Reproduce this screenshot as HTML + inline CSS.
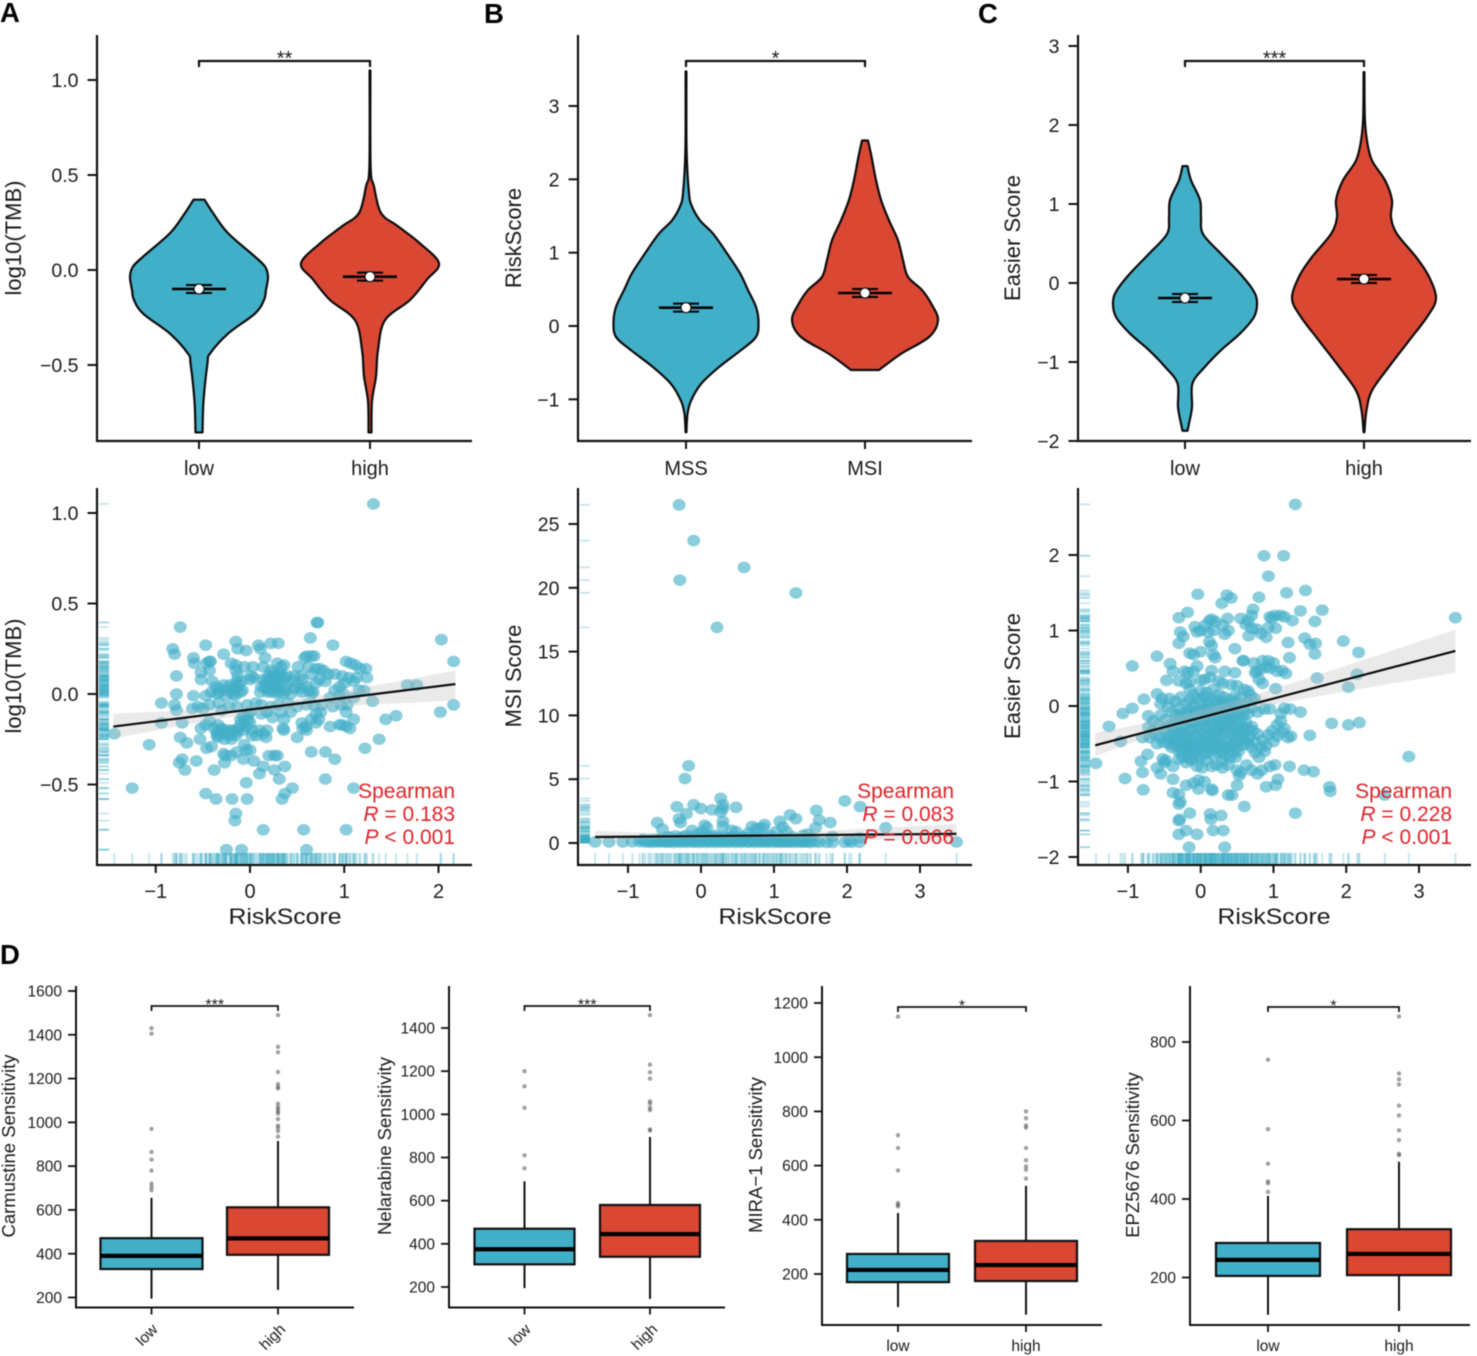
<!DOCTYPE html>
<html lang="en">
<head>
<meta charset="utf-8">
<title>Risk score correlation panels</title>
<style>
html,body{margin:0;padding:0;background:#fff;}
svg{display:block;font-family:"Liberation Sans",Arial,sans-serif;filter:blur(0.4px);}
</style>
</head>
<body>
<svg id="figure" xmlns="http://www.w3.org/2000/svg" width="1477" height="1356" viewBox="0 0 1477 1356"></svg>
<script>
// ---------- violin data ----------
var tmbLowVal=[.37,.3,.194,.07,.018,-.035,-.105,-.158,-.229,-.335,-.44,-.49,-.69,-.855];
var tmbLowDen=[5.5,14,29,56,66,69,67,65,56,29,11,8.5,4.5,3.5];
var tmbHighVal=[1.05,.546,.44,.3,.23,.14,.035,-.05,-.158,-.264,-.42,-.56,-.69,-.855];
var tmbHighDen=[.4,.6,4,11,28,50,69,57,40,15,8,6,2,1.5];
var mssVal=[3.47,2.4,1.81,1.63,1.44,1.26,.99,.72,.49,.26,.05,-.15,-.33,-.56,-.79,-1.02,-1.2,-1.45];
var mssDen=[.4,.6,3,6,14,27,41,54,62,70,72.5,70,55,33,15,5,1.5,.4];
var msiVal=[2.53,2.31,1.99,1.72,1.44,1.17,.9,.67,.49,.31,.08,-.15,-.38,-.6];
var msiDen=[3,6.5,11,16,24,33,38,43,57,66,73,64,36,14];
var easierLowVal=[1.48,1.3,1.05,.835,.62,.37,.12,-.09,-.24,-.43,-.64,-.85,-1.06,-1.27,-1.57,-1.78,-1.87];
var easierLowDen=[2.5,6,15,16,18,36,55,68,72,69,55,36,20,7.5,7,4,2.5];
var easierHighVal=[2.67,2.1,1.8,1.55,1.3,1.05,.835,.62,.33,.08,-.2,-.43,-.73,-1.06,-1.36,-1.61,-1.89];
var easierHighDen=[.4,.8,3,8,21,28,27,33,52,65,72,63,45,25,8,2.5,.4];
var violinMedians=[-.1,-.035,.25,.45,-.19,.05];

// ---------- scatter data ----------
var tmbPoints=[[1.31,1.05],[-.74,.37],[.71,.395],[.72,.395],[.64,.31],[2.03,.3],[.88,.27],[-.47,.27],[-.15,.29],[-.13,.25],[-.04,.24],[.09,.27],[.11,.25],[.22,.28],[.3,.28],[-.82,.25],[-.8,.22],[-.28,.22],[.16,.2],[-.6,.2],[.58,.2],[.6,.21],[.65,.21],[.68,.21],[2.16,.18],[-.59,.17],[-.46,.17],[-.43,.18],[-.42,.18],[-.2,.17],[-.15,.16],[-.06,.15],[.03,.15],[.14,.15],[.29,.17],[.33,.15],[.36,.16],[.51,.15],[.62,.15],[.7,.14],[.74,.14],[.78,.13],[1.02,.18],[1.07,.17],[1.12,.16],[1.17,.14],[1.23,.14],[-.52,.12],[-.43,.13],[-.15,.13],[-.13,.1],[.01,.1],[.2,.1],[.25,.12],[.31,.12],[.34,.1],[.4,.1],[.47,.1],[.54,.1],[.66,.11],[.83,.11],[.9,.11],[.98,.1],[1.13,.09],[1.24,.09],[-.78,.1],[-.52,.08],[-.4,.07],[-.14,.07],[-.09,.07],[0,.08],[.04,.09],[.14,.08],[.18,.08],[.24,.09],[.29,.08],[.33,.07],[.44,.07],[.56,.08],[.7,.06],[.74,.08],[1,.06],[1.1,.07],[1.67,.05],[1.77,.05],[-.36,.04],[-.32,.03],[-.27,.02],[-.2,.02],[-.14,.03],[-.08,.02],[.12,.04],[.17,.03],[.21,.02],[.26,.03],[.3,.04],[.38,.02],[.47,.03],[.54,.03],[.63,.02],[.67,.01],[.9,.02],[.99,0],[1.16,.02],[1.21,.02],[-.78,0],[-.6,-.01],[-.47,-.01],[-.41,.01],[-.35,0],[-.25,-.01],[-.18,0],[-.1,.01],[.11,.01],[.19,.01],[.24,.01],[.35,0],[.43,0],[.55,.01],[.65,0],[.85,-.02],[.95,-.01],[1.1,-.02],[-.94,-.05],[-.8,-.06],[-.61,-.08],[-.55,-.07],[-.5,-.08],[-.43,-.06],[-.33,-.05],[-.22,-.07],[-.14,-.07],[-.03,-.06],[.06,-.05],[.12,-.06],[.22,-.07],[.3,-.06],[.4,-.05],[.5,-.07],[.6,-.06],[.68,-.06],[.76,-.06],[.88,-.07],[.97,-.06],[1.03,-.06],[1.3,-.04],[2.16,-.06],[-.78,-.09],[-.3,-.09],[0,-.1],[.12,-.11],[.18,-.1],[.33,-.1],[.43,-.1],[.7,-.11],[.75,-.1],[1.02,-.1],[2.02,-.1],[1.55,-.12],[1.44,-.14],[-.94,-.16],[-.72,-.16],[-.47,-.17],[-.43,-.15],[-.38,-.19],[-.34,-.17],[-.1,-.14],[-.06,-.15],[-.02,-.14],[0,-.16],[.24,-.13],[.36,-.14],[.55,-.16],[.59,-.18],[.65,-.14],[.7,-.16],[.73,-.14],[.95,-.17],[.98,-.17],[1.02,-.18],[1.1,-.14],[1.06,-.19],[.85,-.18],[-.52,-.19],[-.35,-.21],[-.3,-.2],[-.25,-.2],[-.2,-.2],[-.17,-.2],[-.12,-.19],[-.07,-.2],[.02,-.2],[.1,-.2],[.18,-.2],[.35,-.19],[.36,-.2],[.56,-.19],[.6,-.2],[.02,-.23],[.07,-.23],[.14,-.22],[.17,-.24],[.5,-.24],[-.74,-.24],[-.53,-.25],[-.67,-.27],[-.35,-.23],[-.27,-.25],[-.2,-.25],[-.15,-.23],[-1.44,-.22],[-1.07,-.28],[1.37,-.25],[1.22,-.3],[-.46,-.3],[-.41,-.29],[-.28,-.33],[-.26,-.34],[-.2,-.34],[-.14,-.32],[-.06,-.28],[-.04,-.31],[0,-.31],[.2,-.34],[.26,-.34],[.29,-.34],[.65,-.32],[.8,-.32],[.9,-.36],[-.75,-.38],[-.72,-.36],[-.57,-.37],[-.69,-.42],[-.38,-.42],[-.27,-.38],[-.07,-.36],[.04,-.37],[.14,-.4],[.37,-.4],[.1,-.44],[.26,-.42],[.31,-.47],[.8,-.47],[-1.25,-.52],[-.47,-.55],[-.36,-.58],[-.19,-.58],[-.03,-.58],[-.04,-.49],[.45,-.52],[.37,-.55],[.34,-.58],[1.1,-.52],[-.15,-.66],[-.16,-.7],[.14,-.75],[.57,-.75],[1.02,-.75],[-.25,-.86],[-.09,-.86],[.6,-.86],
[.16,.05],[.2,.06],[.23,.05],[.27,.06],[.31,.02],[.24,.04],[.2,.03],[.28,.1],[.36,.09],[.22,.13],[-.33,.01],[-.28,.05],[-.21,.05],[-.17,.04],[-.12,.05],[-.16,-.01],[-.3,-.19],[-.33,-.22],[-.25,-.22],[-.14,-.21],[-.1,-.17],[-.04,-.18],[-.02,-.11],[-.07,-.12],[-.34,-.24],[-.22,-.23],[.3,.0],[.38,.05],[.5,.05],[.6,.04],[.8,.07],[.95,.04],[1.05,.09]];
var msiPoints=[[-.3,26.5],[-.1,23.7],[-.29,20.6],[.59,21.6],[1.3,19.6],[.22,16.9],[-.17,6.05],[-.22,5.05],[.27,3.5],[.3,3],[-.33,2.85],[-.1,3],[0,2.7],[.15,2.6],[.3,2.7],[.27,2.45],[.48,2.8],[-.2,2.3],[-.3,1.9],[-.28,1.6],[-.6,1.6],[-.53,1.1],[.3,1.7],[.3,1.3],[.05,1.4],[.08,1.2],[-.12,1],[.7,1.3],[.8,1.15],[.85,1.2],[.87,1.45],[.75,1.1],[1.08,1.7],[1.22,2.2],[1.3,1.9],[1.12,1.25],[1.58,2.55],[1.62,1.8],[1.57,1.2],[1.77,1.6],[1.97,3.3],[2.18,2.85],[2.53,1.2],[1.8,.5],[2.17,.4],[-.45,.5],[-.2,.6],[-.35,.55],[-.05,.7],[.02,.9],[.2,.6],[.42,1],[.48,.9],[.55,.5],[.65,.8],[.95,.6],[1.03,.9],[1.17,.9],[1.25,.5],[1.4,.6],[1.46,.7],[1.5,.4],[-1.45,.08],[-1.26,.08],[-1.07,.08],[-.94,.1],[-.84,.1],[-.79,.3],[-.76,.08],[-.72,.1],[-.68,.06],[-.64,.12],[-.6,.08],[-.56,.15],[-.53,.08],[-.5,.2],[-.47,.06],[-.44,.1],[-.41,.22],[-.38,.05],[-.35,.12],[-.32,.3],[-.29,.06],[-.26,.1],[-.23,.2],[-.2,.05],[-.17,.14],[-.14,.3],[-.11,.06],[-.08,.1],[-.05,.22],[-.02,.05],[.01,.12],[.04,.32],[.07,.05],[.1,.15],[.13,.08],[.16,.25],[.19,.05],[.22,.12],[.25,.3],[.28,.06],[.31,.12],[.34,.2],[.37,.05],[.4,.14],[.43,.28],[.46,.06],[.49,.12],[.52,.2],[.55,.05],[.58,.14],[.61,.3],[.64,.06],[.67,.1],[.7,.22],[.73,.05],[.76,.12],[.79,.28],[.82,.06],[.85,.1],[.88,.18],[.91,.05],[.94,.12],[.97,.25],[1,.06],[1.03,.1],[1.06,.2],[1.09,.05],[1.12,.1],[1.15,.22],[1.18,.06],[1.21,.08],[1.27,.06],[1.33,.08],[1.38,.06],[1.42,.1],[1.46,.08],[1.5,.05],[1.56,.1],[1.62,.06],[1.72,.05],[1.8,.05],[1.97,.05],[2.03,.2],[2.06,.06],[2.17,.06],[3.5,.08],[-.8,.2],[-.55,.35],[-.1,.45],[.35,.45],[.72,.45],[1.1,.4],
[-.7,.25],[-.62,.3],[-.48,.35],[-.42,.42],[-.3,.4],[-.25,.5],[-.16,.38],[-.03,.4],[.03,.5],[.09,.42],[.12,.55],[.18,.38],[.24,.45],[.3,.5],[.38,.38],[.44,.5],[.5,.4],[.56,.35],[.62,.45],[.68,.38],[.74,.33],[.8,.4],[.86,.35],[.92,.42],[.98,.38],[1.04,.33],[1.1,.28],[1.16,.35],[1.22,.3],[-.58,.18],[-.52,.25],[-.36,.28],[-.27,.25],[-.18,.28],[-.06,.18],[.06,.25],[.2,.22],[.33,.28],[.47,.25],[.6,.2],[.75,.25],[.9,.22],[1.0,.2],[1.08,.25],[1.3,.18],[1.36,.25],[1.44,.22]];
var easierPoints=[[1.3,2.67],[.87,1.99],[1.14,1.99],[.93,1.72],[1.18,1.5],[1.44,1.53],[-.04,1.48],[.36,1.47],[.42,1.43],[.8,1.44],[.29,1.36],[.72,1.28],[1.37,1.26],[1.67,1.27],[-.18,1.24],[-.3,1.17],[.37,1.16],[.55,1.16],[.7,1.2],[.65,1.13],[.15,1.15],[.12,1.13],[.2,1.12],[.95,1.18],[1.02,1.2],[1.1,1.2],[1.15,1.18],[.98,1.16],[1.26,1.13],[1.57,1.12],[3.5,1.17],[.62,1.08],[.7,1.03],[.77,1.02],[.06,1.07],[-.08,1.05],[.3,1.07],[.38,1],[.33,.95],[0,1],[-.05,.98],[.1,.98],[.18,1],[-.28,.98],[-.24,.92],[.83,.96],[.93,1.04],[1.03,1.03],[.66,.93],[.9,.91],[1.43,.9],[1.5,.82],[1.58,.83],[-.3,.83],[1.2,.84],[1.96,.86],[.12,.85],[.15,.8],[.47,.76],[2.17,.71],[1.22,.64],[1.57,.69],[-.6,.66],[-.94,.53],[-.42,.56],[-.15,.7],[-.1,.68],[0,.72],[.17,.68],[.2,.64],[.59,.6],[.58,.6],[.73,.57],[.85,.6],[.93,.6],[1,.57],[.77,.46],[.82,.48],[.9,.52],[.95,.5],[1.05,.46],[1.12,.47],[1.17,.43],[-.38,.46],[-.22,.46],[-.18,.44],[-.1,.46],[-.05,.53],[.15,.47],[.33,.46],[.47,.44],[.75,.44],[.8,.35],[.85,.3],[1.6,.37],[2.15,.42],[2.03,.25],[1.03,.23],[-.47,.34],[-.3,.33],[-.2,.3],[-.15,.32],[0,.34],[.05,.35],[.13,.38],[.25,.33],[.3,.3],[.42,.28],[.5,.27],[.6,.22],[.65,.2],[-.6,.16],[-.53,.1],[-.78,.09],[-1.07,-.1],[-.94,-.03],[-1.26,-.27],[-.43,.1],[-.35,.06],[-.27,.12],[-.15,.22],[-.1,.15],[0,.2],[.08,.18],[.17,.22],[.25,.15],[.32,.12],[.4,.08],[.47,.13],[.55,.12],[.68,.15],[.74,.1],[.2,.08],[.1,.05],[0,.05],[-.1,0],[-.2,.03],[-.3,-.02],[-.45,-.01],[-.55,.03],[-.72,-.13],[-.65,-.2],[-.55,-.12],[-.48,-.18],[-.4,-.08],[-.33,-.12],[-.25,-.15],[-.18,-.1],[-.1,-.08],[-.03,-.05],[.05,-.03],[.12,-.03],[.2,-.07],[.28,0],[.35,-.04],[.42,-.05],[.5,-.01],[.6,-.05],[.7,-.03],[.78,-.08],[.87,-.04],[.95,-.04],[1.1,-.1],[1.15,-.03],[1.23,-.04],[1.37,-.08],[1.8,-.23],[2.03,-.25],[2.18,-.22],[1.5,-.39],[1.1,-.2],[1.05,-.25],[.98,-.33],[.93,-.38],[.85,-.45],[.78,-.37],[.7,-.27],[.62,-.22],[.55,-.18],[.47,-.15],[.4,-.2],[.32,-.17],[.25,-.22],[.18,-.16],[.1,-.14],[.03,-.18],[-.05,-.14],[-.13,-.22],[-.2,-.25],[-.28,-.2],[-.35,-.22],[-.42,-.25],[-.5,-.3],[-.58,-.25],[-.66,-.33],[-.72,-.28],[-.8,-.42],[-1.1,-.47],[-.7,-.42],[-.63,-.38],[-.55,-.42],[-.47,-.35],[-.38,-.4],[-.3,-.35],[-.22,-.38],[-.15,-.32],[-.07,-.3],[0,-.33],[.07,-.27],[.14,-.3],[.22,-.34],[.3,-.3],[.37,-.28],[.45,-.3],[.52,-.33],[.6,-.35],[.68,-.4],[.75,-.48],[.83,-.55],[.9,-.52],[1,-.47],[1.05,-.4],[1.12,-.35],[1.2,-.42],[1.24,-.4],[1.15,-.3],[-.6,-.5],[-.52,-.48],[-.43,-.5],[-.35,-.45],[-.27,-.5],[-.2,-.48],[-.12,-.45],[-.05,-.5],[.03,-.45],[.1,-.42],[.17,-.48],[.25,-.45],[.33,-.5],[.4,-.42],[.47,-.48],[.55,-.45],[-.4,-.55],[-.3,-.6],[-.23,-.55],[-.15,-.58],[-.08,-.55],[0,-.6],[.07,-.55],[.15,-.58],[.22,-.55],[.3,-.6],[.38,-.55],[.45,-.62],[.52,-.6],[.7,-.55],[.75,-.62],[.8,-.68],[.88,-.6],[-.73,-.64],[-.82,-.73],[-.52,-.7],[-.5,-.75],[-.48,-.72],[-.6,-.82],[-.55,-.9],[-.8,-.88],[-1.04,-.96],[-.79,-1.11],[-.38,-.8],[-.3,-.7],[-.2,-.75],[-.12,-.72],[-.05,-.68],[.02,-.82],[.15,-.8],[.22,-.78],[.3,-.72],[.38,-.78],[.5,-.85],[.55,-.88],[.53,-.92],[.63,-.78],[.7,-.85],[.78,-.9],[.84,-.85],[.95,-.8],[1.02,-.78],[1.22,-.8],[1.42,-.85],[1.55,-.87],[1.77,-1.07],[1.78,-1.13],[1.06,-.97],[1.03,-1.05],[.9,-1.07],[.5,-1.05],[-.38,-.97],[-.38,-1.15],[-.2,-1.05],[-.03,-.98],[.05,-1],[-.1,-1.02],[-.03,-1.1],[.15,-1.1],[.16,-1.12],[-.3,-1.17],[.38,-1.18],[.43,-1.18],[-.28,-1.27],[-.3,-1.3],[.6,-1.33],[-.15,-1.42],[.13,-1.43],[1.3,-1.42],[.28,-1.45],[.14,-1.5],[-.3,-1.52],[-.29,-1.5],[.17,-1.65],[.31,-1.65],[-.2,-1.65],[-.3,-1.7],[-.05,-1.7],[-.16,-1.87],[.33,-1.87],[2.53,-1.18],[2.86,-.67],[-1.44,-.76],
[-.26,-.1],[-.16,-.05],[-.08,-.12],[.02,-.1],[.08,-.08],[.16,-.1],[.24,-.12],[.31,-.08],[.38,-.1],[.44,-.12],[.52,-.1],[.58,-.12],[.65,-.1],[-.38,-.3],[-.32,-.28],[-.25,-.3],[-.18,-.2],[-.1,-.22],[-.02,-.25],[.06,-.22],[.12,-.2],[.2,-.27],[.28,-.25],[.35,-.22],[.42,-.24],[.5,-.25],[.58,-.28],[.65,-.3],[.72,-.33],[-.45,-.43],[-.32,-.42],[-.25,-.44],[-.17,-.42],[-.1,-.38],[-.02,-.4],[.06,-.38],[.13,-.36],[.2,-.4],[.28,-.38],[.35,-.36],[.43,-.38],[.5,-.4],[.58,-.4],[.62,-.45],[-.36,-.52],[-.27,-.55],[-.18,-.52],[-.1,-.52],[-.02,-.55],[.05,-.5],[.12,-.52],[.19,-.53],[.27,-.52],[.35,-.55],[.43,-.52],[.5,-.55],[.58,-.52],[.65,-.5],[-.25,-.62],[-.17,-.65],[-.08,-.62],[0,-.68],[.08,-.62],[.16,-.65],[.24,-.62],[.32,-.65],[.4,-.68],[.48,-.68],[-.25,-.68],[-.15,-.7],[.08,-.72],[-.05,-.8],[.3,-.82],[-.15,.08],[-.05,.1],[.05,.12],[.13,.1],[.22,.03],[.3,.05],[.38,.02],[.46,.05],[.55,.02],[.63,.05],[.7,.08]];

// fit line: [x, y, lower, upper]
var tmbFit=[[-1.45,-.18,-.245,-.11],[.2,-.075,-.1,-.05],[2.18,.055,-.035,.13]];
var msiFit=[[-1.45,.47,.1,.95],[.6,.58,.42,.72],[3.5,.72,.1,1.5]];
var easierFit=[[-1.45,-.52,-.66,-.36],[.4,-.03,-.1,.05],[3.5,.73,.44,1.01]];

// ---------- boxplot data: whiskerLow, q1, median, q3, whiskerHigh ----------
var carmustineLow=[195,330,390,471,655];
var carmustineHigh=[235,395,470,612,915];
var carmustineLowOut=[1430,1405,970,865,830,780,720,705,690];
var carmustineHighOut=[1490,1345,1320,1230,1175,1162,1155,1085,1070,1060,1050,1040,1015,985,975,960,935];
var nelarabineLow=[195,305,375,470,690];
var nelarabineHigh=[145,340,445,580,895];
var nelarabineLowOut=[1200,1130,1030,810,750];
var nelarabineHighOut=[1460,1230,1195,1165,1060,1050,1030,1020,930,925];
var miraLow=[78,170,215,274,425];
var miraHigh=[50,174,233,322,525];
var miraLowOut=[1150,712,665,582,462,455,450];
var miraHighOut=[800,775,748,740,665,620,597,585,552];
var epzLow=[105,204,245,288,408];
var epzHigh=[115,206,260,323,495];
var epzLowOut=[755,578,490,445,440,418];
var epzHighOut=[865,720,705,692,638,613,575,550,515,512];

var xTicksRisk=[-1,0,1,2,3];
var BLUE='#42afc8',RED='#da4733',INK='#111';
var NS='http://www.w3.org/2000/svg';
var svg=document.getElementById('figure');

function el(tag,attrs,parent){
  var e=document.createElementNS(NS,tag);
  for(var k in attrs){e.setAttribute(k,attrs[k]);}
  (parent||svg).appendChild(e);
  return e;
}
function linear(v0,p0,v1,p1){return function(v){return p0+(v-v0)*(p1-p0)/(v1-v0);};}
function fmt(v,d){var s=Math.abs(v).toFixed(d);return (v<0?'\u2212':'')+s;}

function text(str,x,y,size,anchor,name,fill,extra){
  var t=el('text',{x:x,y:y,'font-size':size,'text-anchor':anchor||'middle',fill:fill||'#1a1a1a'});
  if(extra){for(var k in extra){t.setAttribute(k,extra[k]);}}
  t.textContent=str;
  
  
  return t;
}
function rotText(str,x,y,size,name){
  var t=text(str,x,y,size,'middle',name);
  t.setAttribute('transform','rotate(-90 '+x+' '+y+')');
  return t;
}
function line(x1,y1,x2,y2,w,name,col,op){
  var l=el('line',{x1:x1,y1:y1,x2:x2,y2:y2,stroke:col||INK,'stroke-width':w});
  if(op!==undefined){l.setAttribute('opacity',op);}
  
  
  return l;
}
function axes(cfg){
  line(cfg.left,cfg.top,cfg.left,cfg.base+1,cfg.w,'y-axis-line');
  line(cfg.left-1,cfg.base,cfg.right,cfg.base,cfg.w,'x-axis-line');
  cfg.yTicks.forEach(function(v){
    var p=cfg.y(v);
    line(cfg.left-cfg.tick,p,cfg.left,p,cfg.w*.9,'y-tick');
    text(fmt(v,cfg.yDec),cfg.left-cfg.tick-cfg.gap,p+cfg.fs*.36,cfg.fs,'end','y-tick-label');
  });
}
function smoothPts(pts){
  var d='';
  for(var i=0;i<pts.length-1;i++){
    var p0=pts[i-1]||pts[i],p1=pts[i],p2=pts[i+1],p3=pts[i+2]||p2;
    var c1x=p1[0]+(p2[0]-p0[0])/6,c1y=p1[1]+(p2[1]-p0[1])/6;
    var c2x=p2[0]-(p3[0]-p1[0])/6,c2y=p2[1]-(p3[1]-p1[1])/6;
    d+=' C'+c1x.toFixed(2)+' '+c1y.toFixed(2)+' '+c2x.toFixed(2)+' '+c2y.toFixed(2)+' '+p2[0].toFixed(2)+' '+p2[1].toFixed(2);
  }
  return d;
}
function violin(cx,y,vals,dens,median,color,label){
  var right=vals.map(function(v,i){return [cx+dens[i],y(v)];});
  var left=vals.map(function(v,i){return [cx-dens[i],y(v)];}).reverse();
  var d='M'+right[0][0]+' '+right[0][1]+smoothPts(right)+' L'+left[0][0]+' '+left[0][1]+smoothPts(left)+' Z';
  var p=el('path',{d:d,fill:color,stroke:'#0c0c0c','stroke-width':2.2,'stroke-linejoin':'round'});
  
  
  var my=y(median);
  line(cx-27,my,cx+27,my,2.6,'median-bar-'+label,'#000');
  line(cx-13,my-4,cx+13,my-4,2,'ci-upper-'+label,'#000');
  line(cx-13,my+4,cx+13,my+4,2,'ci-lower-'+label,'#000');
  var c=el('circle',{cx:cx,cy:my,r:5,fill:'#fff',stroke:'#000','stroke-width':1});
  
  
}
function bracket(x1,x2,y,drop,w,stars,starSize,starY){
  var p=el('path',{d:'M'+x1+' '+(y+drop)+' V'+y+' H'+x2+' V'+(y+drop),fill:'none',stroke:INK,'stroke-width':w});
  
  
  text(stars,(x1+x2)/2,starY,starSize,'middle','significance-stars');
}
function violinPanel(c){
  c.gap=9;
  axes(c);
  violin(c.cats[0],c.y,c.v1,c.d1,c.m[0],BLUE,c.names[0]);
  violin(c.cats[1],c.y,c.v2,c.d2,c.m[1],RED,c.names[1]);
  c.cats.forEach(function(x,i){
    line(x,c.base,x,c.base+8,2,'x-tick');
    text(c.names[i],x,475,20,'middle','x-tick-label');
  });
  bracket(c.cats[0],c.cats[1],61,6,2.2,c.stars,20,65);
  rotText(c.title,c.titleX,238,22,'y-axis-title');
}
function scatterPanel(c){
  c.gap=9;
  axes(c);
  var x=c.x,y=c.y;
  c.points.forEach(function(pt){
    line(x(pt[0]),853,x(pt[0]),c.base-1,2,'rug-x',BLUE,.3);
    line(c.left+2,y(pt[1]),c.left+12,y(pt[1]),1.8,'rug-y',BLUE,.3);
  });
  c.points.forEach(function(pt){
    var e=el('ellipse',{cx:x(pt[0]),cy:y(pt[1]),rx:6.5,ry:5.8,fill:BLUE,'fill-opacity':.62});
    
    
  });
  var up=c.fit.map(function(f){return [x(f[0]),y(f[3])];});
  var lo=c.fit.map(function(f){return [x(f[0]),y(f[2])];}).reverse();
  var band=el('path',{d:'M'+up[0][0]+' '+up[0][1]+smoothPts(up)+' L'+lo[0][0]+' '+lo[0][1]+smoothPts(lo)+' Z',fill:'#bdbdbd','fill-opacity':.32});
  
  
  var f0=c.fit[0],f1=c.fit[c.fit.length-1];
  line(x(f0[0]),y(f0[1]),x(f1[0]),y(f1[1]),2.2,'regression-line','#0a0a0a');
  c.xTicks.forEach(function(v){
    line(x(v),c.base,x(v),c.base+8,2,'x-tick');
    text(fmt(v,0),x(v),898,20,'middle','x-tick-label');
  });
  text('RiskScore',c.xTitleX,924,22.5,'middle','x-axis-title','#1a1a1a',{textLength:113,lengthAdjust:'spacingAndGlyphs'});
  rotText(c.title,c.titleX,676,22,'y-axis-title');
  var RED_T='#e0232a';
  text('Spearman',c.statX,798,21,'end','stat-method',RED_T);
  var r=text('',c.statX,821,21,'end','stat-r',RED_T);
  var ri=el('tspan',{'font-style':'italic'},r);ri.textContent='R';
  var rr=el('tspan',{},r);rr.textContent=' = '+c.r;
  var s=text('',c.statX,844,21,'end','stat-p',RED_T);
  var si=el('tspan',{'font-style':'italic'},s);si.textContent='P';
  var sr=el('tspan',{},s);sr.textContent=' '+c.p;
}
function box(cx,hw,y,st,out,color,label){
  out.forEach(function(v){
    var o=el('circle',{cx:cx,cy:y(v),r:2.2,fill:'#555','fill-opacity':.55});
    
    
  });
  line(cx,y(st[0]),cx,y(st[4]),2,'whisker-'+label);
  var r=el('rect',{x:cx-hw,y:y(st[3]),width:hw*2,height:y(st[1])-y(st[3]),fill:color,stroke:INK,'stroke-width':2.2});
  
  
  line(cx-hw,y(st[2]),cx+hw,y(st[2]),4.2,'median-'+label,'#000');
}
function boxPanel(c){
  c.w=2;c.tick=8;c.gap=6;c.fs=15.5;c.yDec=0;
  axes(c);
  box(c.cats[0],c.hw,c.y,c.s1,c.o1,BLUE,'low');
  box(c.cats[1],c.hw,c.y,c.s2,c.o2,RED,'high');
  ['low','high'].forEach(function(n,i){
    var cx=c.cats[i];
    line(cx,c.base,cx,c.base+7,1.8,'x-tick');
    if(c.rotated){
      var lx=cx-(i?2:1),ly=c.base+(i?33:31);
      var t=text(n,lx,ly,15.5,'middle','x-tick-label');
      t.setAttribute('transform','rotate(-45 '+lx+' '+ly+')');
    }else{
      text(n,cx,1351,15.5,'middle','x-tick-label');
    }
  });
  bracket(c.cats[0],c.cats[1],c.brY,5,1.8,c.stars,16,c.brY+4);
  rotText(c.title,c.titleX,c.titleY,18.5,'y-axis-title');
}

// Panel letters
[['A',0,22],['B',484,23],['C',978,23],['D',0,964]].forEach(function(a){
  text(a[0],a[1],a[2],27.5,'start','panel-label-'+a[0].toLowerCase(),'#000',{'font-weight':'bold'});
});

// Violins
violinPanel({left:97,right:472,top:35,base:441,w:2.2,tick:9.5,fs:19.5,yDec:1,y:linear(0,270,1,80),yTicks:[1,.5,0,-.5],cats:[199,370],names:['low','high'],v1:tmbLowVal,d1:tmbLowDen,v2:tmbHighVal,d2:tmbHighDen,m:[violinMedians[0],violinMedians[1]],stars:'**',title:'log10(TMB)',titleX:21});
violinPanel({left:578,right:972,top:35,base:441,w:2.2,tick:9.5,fs:19.5,yDec:0,y:linear(0,326,3,106),yTicks:[3,2,1,0,-1],cats:[686,865],names:['MSS','MSI'],v1:mssVal,d1:mssDen,v2:msiVal,d2:msiDen,m:[violinMedians[2],violinMedians[3]],stars:'*',title:'RiskScore',titleX:521});
violinPanel({left:1078,right:1471,top:35,base:441,w:2.2,tick:9.5,fs:19.5,yDec:0,y:linear(0,283,3,46),yTicks:[3,2,1,0,-1,-2],cats:[1185,1364],names:['low','high'],v1:easierLowVal,d1:easierLowDen,v2:easierHighVal,d2:easierHighDen,m:[violinMedians[4],violinMedians[5]],stars:'***',title:'Easier Score',titleX:1020});

// Scatters
scatterPanel({left:97,right:472,top:488,base:865,w:2.2,tick:9.5,fs:19.5,yDec:1,x:linear(0,250,2,438.5),y:linear(0,694,1,513),yTicks:[1,.5,0,-.5],xTicks:[-1,0,1,2],points:tmbPoints,fit:tmbFit,xTitleX:285,title:'log10(TMB)',titleX:21,statX:455,r:'0.183',p:'< 0.001'});
scatterPanel({left:578,right:972,top:488,base:865,w:2.2,tick:9.5,fs:19.5,yDec:0,x:linear(0,701,3,920),y:linear(0,843,25,524),yTicks:[25,20,15,10,5,0],xTicks:xTicksRisk,points:msiPoints,fit:msiFit,xTitleX:775,title:'MSI Score',titleX:521,statX:954,r:'0.083',p:'= 0.066'});
scatterPanel({left:1078,right:1471,top:488,base:865,w:2.2,tick:9.5,fs:19.5,yDec:0,x:linear(0,1200.7,3,1419),y:linear(0,706,2,555),yTicks:[2,1,0,-1,-2],xTicks:xTicksRisk,points:easierPoints,fit:easierFit,xTitleX:1274,title:'Easier Score',titleX:1020,statX:1452,r:'0.228',p:'< 0.001'});

// Boxplots
boxPanel({left:76,right:354,top:986,base:1307.5,y:linear(200,1297.5,1600,991),yTicks:[1600,1400,1200,1000,800,600,400,200],cats:[151.5,278],hw:51,s1:carmustineLow,s2:carmustineHigh,o1:carmustineLowOut,o2:carmustineHighOut,rotated:true,brY:1006,stars:'***',title:'Carmustine Sensitivity',titleX:15,titleY:1146});
boxPanel({left:449,right:725,top:986,base:1307.5,y:linear(200,1287,1400,1028),yTicks:[1400,1200,1000,800,600,400,200],cats:[524.5,650],hw:50,s1:nelarabineLow,s2:nelarabineHigh,o1:nelarabineLowOut,o2:nelarabineHighOut,rotated:true,brY:1006,stars:'***',title:'Nelarabine Sensitivity',titleX:391,titleY:1146});
boxPanel({left:822,right:1102,top:986,base:1325,y:linear(200,1274,1200,1003),yTicks:[1200,1000,800,600,400,200],cats:[898,1026],hw:51,s1:miraLow,s2:miraHigh,o1:miraLowOut,o2:miraHighOut,rotated:false,brY:1007,stars:'*',title:'MIRA\u22121 Sensitivity',titleX:762,titleY:1155});
boxPanel({left:1190,right:1470,top:986,base:1325,y:linear(200,1277.5,800,1042),yTicks:[800,600,400,200],cats:[1268,1399],hw:52,s1:epzLow,s2:epzHigh,o1:epzLowOut,o2:epzHighOut,rotated:false,brY:1007,stars:'*',title:'EPZ5676 Sensitivity',titleX:1139,titleY:1155});
</script>
</body>
</html>
